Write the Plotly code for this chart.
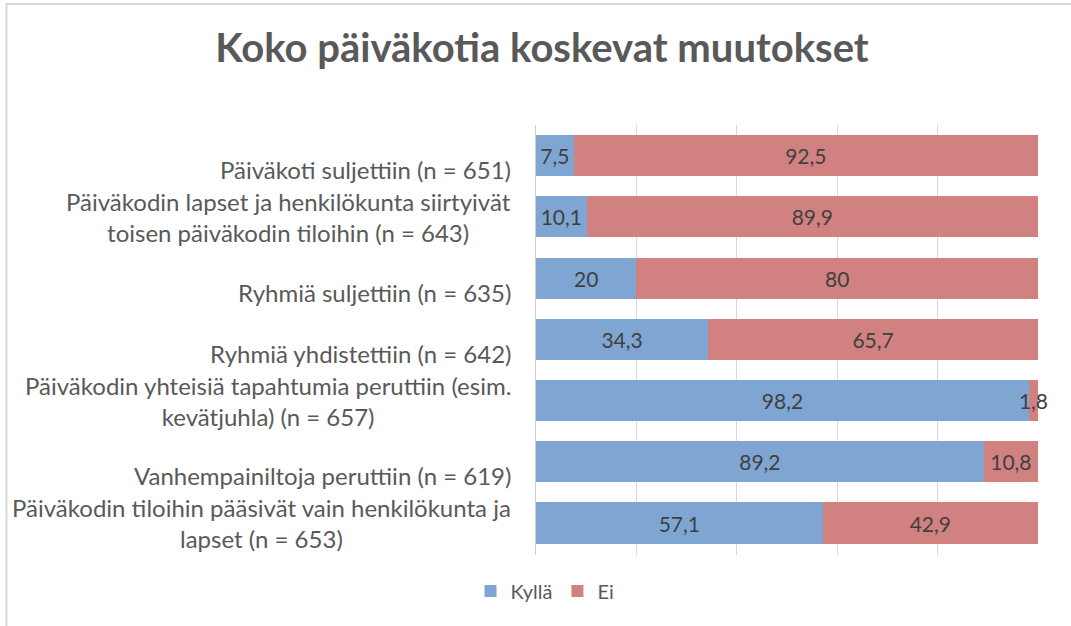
import plotly.graph_objects as go

categories = [
    "Päiväkoti suljettiin (n = 651)",
    "Päiväkodin lapset ja henkilökunta siirtyivät<br>toisen päiväkodin tiloihin (n = 643)",
    "Ryhmiä suljettiin (n = 635)",
    "Ryhmiä yhdistettiin (n = 642)",
    "Päiväkodin yhteisiä tapahtumia peruttiin (esim.<br>kevätjuhla) (n = 657)",
    "Vanhempainiltoja peruttiin (n = 619)",
    "Päiväkodin tiloihin pääsivät vain henkilökunta ja<br>lapset (n = 653)",
]
kylla = [7.5, 10.1, 20, 34.3, 98.2, 89.2, 57.1]
ei = [92.5, 89.9, 80, 65.7, 1.8, 10.8, 42.9]
series_names = ["Kyllä", "Ei"]
title_text = "Koko päiväkotia koskevat muutokset"

BLUE = "#7FA6D3"
RED = "#D18180"
FONT = "Lato, 'Open Sans', sans-serif"


def fmt(v):
    return f"{v:g}".replace(".", ",")


fig = go.Figure()
for name, vals, col in [(series_names[0], kylla, BLUE), (series_names[1], ei, RED)]:
    fig.add_trace(go.Bar(
        name=name, y=categories, x=vals, orientation="h",
        marker=dict(color=col, line=dict(width=0)),
        text=[fmt(v) for v in vals], textposition="inside",
        insidetextanchor="middle", constraintext="none", textangle=0,
        cliponaxis=False,
        textfont=dict(family=FONT, size=21, color="#404040"),
    ))

for c in categories:
    fig.add_annotation(
        x=0, xref="paper", y=c, yref="y", xanchor="right", xshift=-23,
        yshift=0 if "<br>" in c else -14,
        text=c, showarrow=False, align="center",
        font=dict(family=FONT, size=24, color="#595959"),
    )

L, R, T, B = 536, 33, 125, 71
W, H = 1071, 626
pw, ph = W - L - R, H - T - B


def px2x(px):
    return (px - L) / pw


def py2y(py):
    return (H - B - py) / ph


fig.add_shape(type="rect", xref="paper", yref="paper",
              x0=px2x(6.5), x1=px2x(1090), y0=py2y(640), y1=py2y(4),
              line=dict(color="#D9D9D9", width=2), layer="below")

fig.update_layout(
    width=W, height=H,
    margin=dict(l=L, r=R, t=T, b=B, autoexpand=False),
    barmode="stack", bargap=0.33,
    plot_bgcolor="white", paper_bgcolor="white",
    uniformtext=dict(mode="show", minsize=21),
    title=dict(text=f"<b>{title_text}</b>", x=542 / W, xanchor="center",
               y=1 - 48 / H, yanchor="middle",
               font=dict(family=FONT, size=40, color="#595959")),
    xaxis=dict(range=[0, 100], tickvals=[0, 20, 40, 60, 80, 100],
               showticklabels=False, showgrid=True, gridcolor="#D9D9D9",
               gridwidth=1, zeroline=False, fixedrange=True),
    yaxis=dict(autorange="reversed", showticklabels=False, showgrid=False,
               showline=True, linecolor="#D0D0D0", zeroline=False),
    legend=dict(orientation="h", x=px2x(545), xanchor="center",
                y=py2y(591), yanchor="middle", traceorder="normal",
                font=dict(family=FONT, size=20, color="#595959")),
    showlegend=True,
)

fig.write_html("out.html", config={"displayModeBar": False},
               post_script="document.body.style.margin='0';")
